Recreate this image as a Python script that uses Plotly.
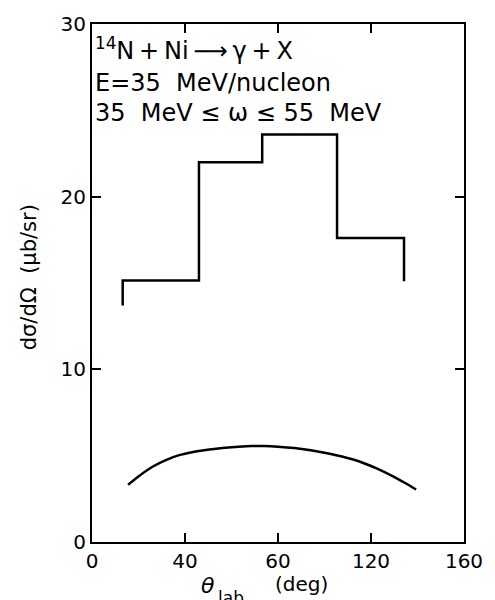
import plotly.graph_objects as go

# ---- data ----
bin_edges = [13.2, 46.0, 73.2, 105.4, 134.2]          # theta_lab (deg)
bin_values = [15.15, 22.0, 23.6, 17.6]                # dσ/dΩ (μb/sr)
hist_start_value = 13.7                               # left end drop
hist_end_value = 15.1                                 # right end drop

curve_theta = [15.5, 20, 26.2, 32, 37.5, 44, 51.6, 60, 68.6, 74, 80, 87, 94.1,
               100, 107.5, 115.3, 122.4, 129.5, 134.5, 139.4]
curve_values = [3.32, 3.80, 4.37, 4.76, 5.03, 5.23, 5.37, 5.49, 5.56, 5.56, 5.52, 5.44, 5.31,
                5.17, 4.95, 4.65, 4.26, 3.80, 3.43, 3.04]

x_tickvals = [0, 40, 80, 120, 160]
x_ticktext = ["0", "40", "60", "120", "160"]
y_tickvals = [0, 10, 20, 30]
y_ticktext = ["0", "10", "20", "30"]

# ---- build histogram outline from edges/values ----
hx = [bin_edges[0]]
hy = [hist_start_value]
for i, v in enumerate(bin_values):
    hx += [bin_edges[i], bin_edges[i + 1]]
    hy += [v, v]
hx.append(bin_edges[-1])
hy.append(hist_end_value)

FONT = "DejaVu Sans"

fig = go.Figure()
fig.add_trace(go.Scatter(x=hx, y=hy, mode="lines",
                         line=dict(color="black", width=2.5), hoverinfo="skip"))
fig.add_trace(go.Scatter(x=curve_theta, y=curve_values, mode="lines",
                         line=dict(color="black", width=2.5, shape="spline", smoothing=0.8),
                         hoverinfo="skip"))

axis_common = dict(showgrid=False, zeroline=False, showline=True, linecolor="black", linewidth=2,
                   mirror="ticks", ticks="inside", ticklen=9, tickwidth=2, tickcolor="black",
                   tickfont=dict(family=FONT, size=20, color="black"))

fig.update_xaxes(range=[0, 160], tickmode="array", tickvals=x_tickvals, ticktext=x_ticktext, **axis_common)
fig.update_yaxes(range=[0, 30], tickmode="array", tickvals=y_tickvals, ticktext=y_ticktext, **axis_common)


def px(xp):
    return (xp - 92) / 376


def py(yp):
    return 1 - (yp - 13) / 529


ann_font = dict(family=FONT, size=24, color="black")
annotations = [
    dict(text="<sup>14</sup>N\u2009+\u2009Ni\u2009⟶\u2009γ\u2009+\u2009X", x=px(93), y=py(39), xanchor="left", yanchor="middle"),
    dict(text="E=35  MeV/nucleon", x=px(93), y=py(73), xanchor="left", yanchor="middle"),
    dict(text="35  MeV ≤ ω ≤ 55  MeV", x=px(93), y=py(104), xanchor="left", yanchor="middle"),
]
for a in annotations:
    a.update(xref="paper", yref="paper", showarrow=False, font=ann_font)

annotations += [
    dict(text="<i>θ</i>", x=px(209), y=py(586), xref="paper", yref="paper",
         showarrow=False, font=dict(family=FONT, size=22, color="black"), xanchor="center", yanchor="middle"),
    dict(text="lab", x=px(232), y=py(599), xref="paper", yref="paper",
         showarrow=False, font=dict(family=FONT, size=17, color="black"), xanchor="center", yanchor="middle"),
    dict(text="(deg)", x=px(304), y=py(585), xref="paper", yref="paper",
         showarrow=False, font=dict(family=FONT, size=20, color="black"), xanchor="center", yanchor="middle"),
    dict(text="dσ/dΩ  (μb/sr)", x=px(28), y=py(272), xref="paper", yref="paper",
         textangle=-90, showarrow=False, font=dict(family=FONT, size=21, color="black"),
         xanchor="center", yanchor="middle"),
]

fig.update_layout(
    width=495, height=600,
    margin=dict(l=92, r=27, t=13, b=58),
    paper_bgcolor="white", plot_bgcolor="white",
    showlegend=False,
    annotations=annotations,
)

fig.write_html("out.html")
